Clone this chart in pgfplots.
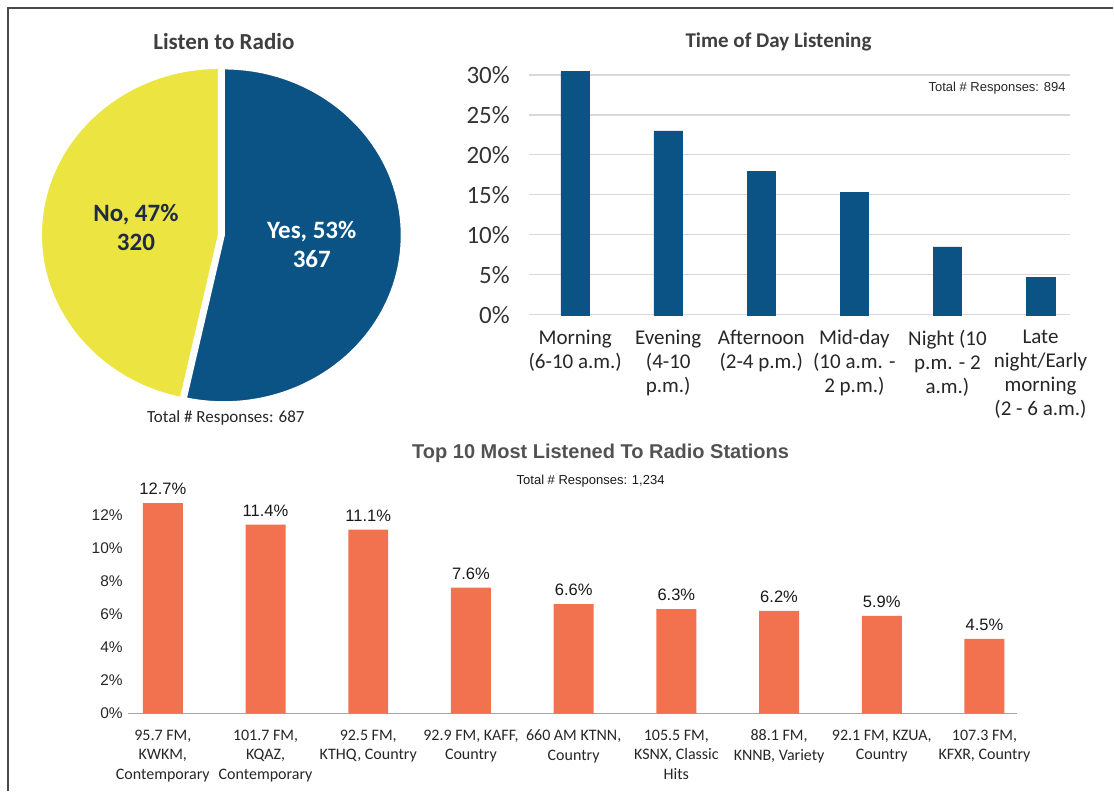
\documentclass[border=0pt]{standalone}
\usepackage{fontspec}
\setmainfont{Carlito}
\newfontfamily\arial{Liberation Sans}
\usepackage{pgfplots}
\pgfplotsset{compat=1.18}
\definecolor{barblue}{HTML}{0B5384}
\definecolor{pieyellow}{HTML}{ECE541}
\definecolor{barorange}{HTML}{F2714F}
\definecolor{titlegray}{HTML}{3F3F3F}
\definecolor{gridgray}{HTML}{D9D9D9}
\definecolor{axisgray}{HTML}{A6A6A6}
\definecolor{navy}{HTML}{1F2A44}
\definecolor{framegray}{HTML}{4A4A4A}
\newcommand{\fs}[2]{\fontsize{#1}{#2}\selectfont}
\begin{document}
\begin{tikzpicture}[x=0.75pt,y=0.75pt]
\path (0,0) rectangle (1114,792);
\draw[framegray, line width=1.1pt] (8,0) -- (8,784) -- (1114,784);

% ---------- Pie ----------
\pgfmathsetmacro{\yesN}{367}
\pgfmathsetmacro{\noN}{320}
\pgfmathsetmacro{\yesEnd}{90-360/(\yesN+\noN)*\yesN}
\pgfmathsetmacro{\noEnd}{\yesEnd+360}
\begin{axis}[hide axis, scale only axis, width=267pt, height=250.5pt,
  xmin=-1, xmax=1, ymin=-1, ymax=1, at={(30.75pt,292.5pt)}, anchor=south west, clip=false]
\fill[pieyellow, draw=white, line width=1.5pt] (axis cs:0,0) -- (axis cs:0,1)
   arc[start angle=90, end angle=\noEnd, x radius=133.5pt, y radius=125.25pt] -- cycle;
\fill[barblue, draw=white, line width=1.5pt] (axis cs:0.028,-0.003) -- (axis cs:0.028,0.997)
   arc[start angle=90, end angle=\yesEnd, x radius=133.5pt, y radius=125.25pt] -- cycle;
\end{axis}
\node[font=\bfseries\fs{17.25}{20}, text=titlegray] at (224,750) {Listen to Radio};
\node[font=\fs{12.75}{15}, text=black!85] at (226,374) {Total \# Responses: 687};
\node[font=\bfseries\fs{18.75}{21.75}, text=navy, align=center] at (136,564) {No, 47\%\\320};
\node[font=\bfseries\fs{18.75}{21.75}, text=white, align=center] at (312,547) {Yes, 53\%\\367};

% ---------- Time of day ----------
\node[font=\bfseries\fs{15.75}{18}, text=titlegray] at (779,750) {Time of Day Listening};
\begin{axis}[at={(396.75pt,357.75pt)}, anchor=south west, scale only axis,
  width=406.5pt, height=180pt,
  xmin=-0.5, xmax=5.32, ymin=0, ymax=30, clip=false,
  axis line style={draw=none},
  ymajorgrids, grid style={gridgray, line width=0.9pt},
  major tick length=0pt,
  ytick={0,5,...,30}, yticklabels={0\%,5\%,10\%,15\%,20\%,25\%,30\%},
  yticklabel style={font=\fs{18.75}{20}, text=black!80, anchor=east, inner sep=0pt, xshift=-14pt},
  xtick={0,...,5},
  xticklabels={{Morning\\(6-10 a.m.)},{Evening\\(4-10\\p.m.)},{Afternoon\\(2-4 p.m.)},{Mid-day\\(10 a.m. -\\2 p.m.)},{Night (10\\p.m. - 2\\a.m.)},{Late\\night/Early\\morning\\(2 - 6 a.m.)}},
  xticklabel style={font=\fs{15.75}{18}, text=black!85, align=center, anchor=north, inner sep=0pt, yshift=-11pt},
  ybar, bar width=21.4pt]
\addplot[fill=barblue, draw=barblue] coordinates {(0,30.4) (1,23.0) (2,17.9) (3,15.3) (4,8.5) (5,4.7)};
\end{axis}
\node[anchor=east, font=\arial\fs{9.75}{12}, text=black!85] at (1071,704) {Total \# Responses: 894};

% ---------- Top 10 ----------
\node[font=\arial\bfseries\fs{15}{18}, text=titlegray!90] at (601,338) {Top 10 Most Listened To Radio Stations};
\node[font=\arial\fs{9.75}{12}, text=black!90] at (591,311) {Total \# Responses: 1,234};
\begin{axis}[at={(96pt,58.5pt)}, anchor=south west, scale only axis,
  width=667.5pt, height=149.25pt,
  xmin=-0.34, xmax=8.32, ymin=0, ymax=12, clip=false,
  axis x line=bottom, axis y line=left, axis line style={-},
  x axis line style={axisgray, line width=1.1pt},
  y axis line style={draw=none},
  major tick length=0pt,
  ytick={0,2,...,12}, yticklabels={0\%,2\%,4\%,6\%,8\%,10\%,12\%},
  yticklabel style={font=\arial\fs{11.6}{13}, text=black!85, anchor=east, inner sep=0pt, xshift=-3.75pt},
  xtick={0,...,8},
  xticklabels={{95.7 FM,\\KWKM,\\Contemporary},{101.7 FM,\\KQAZ,\\Contemporary},{92.5 FM,\\KTHQ, Country},{92.9 FM, KAFF,\\Country},{660 AM KTNN,\\Country},{105.5 FM,\\KSNX, Classic\\Hits},{88.1 FM,\\KNNB, Variety},{92.1 FM, KZUA,\\Country},{107.3 FM,\\KFXR, Country}},
  xticklabel style={font=\fs{12}{14.6}, text=black!85, align=center, anchor=north, inner sep=0pt, yshift=-12pt},
  /pgf/number format/assume math mode=true,
  ybar, bar width=30pt,
  nodes near coords={\pgfmathprintnumber[fixed,precision=1,fixed zerofill]{\pgfplotspointmeta}\%},
  nodes near coords style={font=\arial\fs{12.4}{14}, text=black!90, anchor=south, inner sep=0pt, yshift=6pt}]
\addplot[fill=barorange, draw=none] coordinates {(0,12.7) (1,11.4) (2,11.1) (3,7.6) (4,6.6) (5,6.3) (6,6.2) (7,5.9) (8,4.5)};
\end{axis}
\end{tikzpicture}
\end{document}
